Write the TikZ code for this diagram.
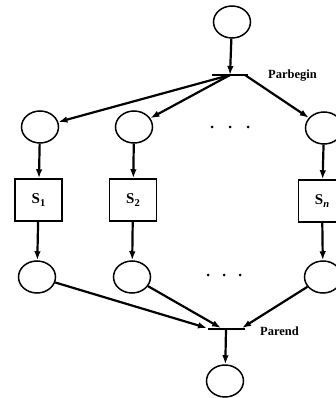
\documentclass[tikz,border=0pt]{standalone}
\usepackage{fontspec}
\setmainfont{Liberation Serif}
\usetikzlibrary{shapes.geometric,arrows.meta}
\tikzset{
  place/.style={draw, ellipse, line width=1.5pt, minimum width=37pt, minimum height=32pt, inner sep=0pt},
  stmt/.style={draw, rectangle, line width=1.5pt, minimum width=47pt, minimum height=42pt, inner sep=0pt, font=\fontsize{15}{17}\selectfont\bfseries},
  arr/.style={line width=2.2pt, -{Latex[length=9pt,width=6.5pt]}},
  barline/.style={line width=1.6pt},
  lbl/.style={inner sep=0pt, font=\fontsize{12.5}{14}\selectfont\bfseries},
  dot/.style={circle, fill, inner sep=0pt, minimum size=3pt}
}
\newcommand{\subsc}[1]{\raisebox{-0.45ex}{\fontsize{10.5}{11}\selectfont #1}}
\begin{document}
\begin{tikzpicture}[x=1pt,y=-1pt]
\useasboundingbox (0,0) rectangle (335,398);
% places
\node[place] (top) at (232,22) {};
\node[place] (c1) at (40,127) {};
\node[place] (c2) at (134,127) {};
\node[place] (c3) at (324,128) {};
\node[place] (d1) at (37,277) {};
\node[place] (d2) at (132,277) {};
\node[place] (d3) at (323,277) {};
\node[place] (bot) at (225,381) {};
% statements
\node[stmt] (s1) at (38.5,200) {S\subsc{1}};
\node[stmt] (s2) at (133,200) {S\subsc{2}};
\node[stmt] (s3) at (322,201) {S\subsc{\textit{n}}};
% parbegin bar
\coordinate (pbL) at (212,75);
\coordinate (pbR) at (248,75);
\coordinate (pbC) at (230,75);
\coordinate (pbS) at (245,75);
\draw[barline] (pbL) -- (pbR);
\node[lbl, anchor=base west] (pbt) at (268,79) {Parbegin};
% parend bar
\coordinate (peL) at (208,329);
\coordinate (peR) at (245,329);
\coordinate (peC) at (226,329);
\coordinate (pe1) at (207,328);
\coordinate (pe2) at (221,328);
\coordinate (pe3) at (242,328);
\draw[barline] (peL) -- (peR);
\node[lbl, anchor=base west] (pet) at (260,335) {Parend};
% arrows
\draw[arr] (top) -- (pbC);
\draw[arr] (pbC) -- (c1);
\draw[arr] (pbC) -- (c2);
\draw[arr] (pbS) -- (c3);
\draw[arr] (c1) -- (s1);
\draw[arr] (c2) -- (s2);
\draw[arr] (c3) -- (s3);
\draw[arr] (s1) -- (d1);
\draw[arr] (s2) -- (d2);
\draw[arr] (s3) -- (d3);
\draw[arr] (d1) -- (pe1);
\draw[arr] (d2) -- (pe2);
\draw[arr] (d3) -- (pe3);
\draw[arr] (peC) -- (bot);
% ellipsis dots
\node[dot] (a1) at (212,127) {};
\node[dot] (a2) at (230,127) {};
\node[dot] (a3) at (248,127) {};
\node[dot] (b1) at (208,275) {};
\node[dot] (b2) at (224,275) {};
\node[dot] (b3) at (240,275) {};
\end{tikzpicture}
\end{document}
